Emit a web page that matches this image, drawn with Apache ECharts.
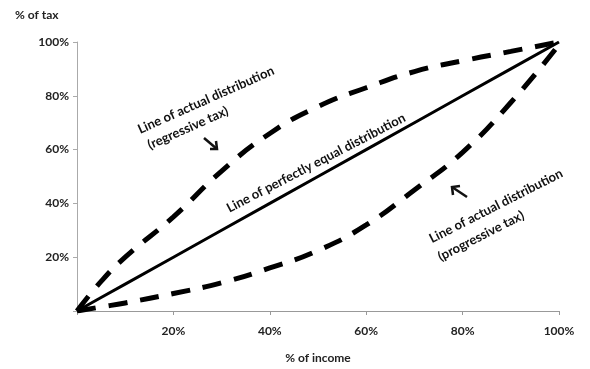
<!DOCTYPE html>
<html>
<head>
<meta charset="utf-8">
<script src="https://cdn.jsdelivr.net/npm/echarts@6/dist/echarts.min.js"></script>
<style>
  html, body { margin: 0; padding: 0; background: #fff; }
  #chart { width: 590px; height: 369px; }
</style>
</head>
<body>
<div id="chart"></div>
<script>
// cumulative % of income
var incomeShare    = [0, 5, 10, 20, 30, 40, 50, 60, 70, 80, 90, 100];
// cumulative % of tax
var equalTax       = [0, 5, 10, 20, 30, 40, 50, 60, 70, 80, 90, 100];
var regressiveTax  = [0, 11, 20, 35, 52, 66, 76, 83, 89, 93, 96.5, 100];
var progressiveTax = [0, 1.5, 3, 6.5, 10.5, 16, 22.5, 32, 45, 59, 77.5, 99];
var tickValues     = [20, 40, 60, 80, 100];

function pairs(ys) {
  return incomeShare.map(function (x, i) { return [x, ys[i]]; });
}
function pct(v) { return v === 0 ? '' : v + '%'; }

var font = 'Lato, "Open Sans", sans-serif';
var labelStyle = { color: '#222', fontSize: 12, fontWeight: 'bold', fontFamily: font };
var noteStyle = { fill: '#111', fontSize: 13, fontWeight: 'bold', fontFamily: font,
                  textAlign: 'center', textVerticalAlign: 'middle' };

var chart = echarts.init(document.getElementById('chart'));
chart.setOption({
  animation: false,
  backgroundColor: '#fff',
  grid: { left: 77, right: 31, top: 42, bottom: 58 },
  xAxis: {
    type: 'value', min: 0, max: 100, interval: 20,
    name: '% of income', nameLocation: 'middle', nameGap: 41,
    nameTextStyle: labelStyle,
    axisLine: { lineStyle: { color: '#999', width: 1 } },
    axisTick: { show: true, length: 4, lineStyle: { color: '#999' } },
    axisLabel: Object.assign({ margin: 14, formatter: pct }, labelStyle),
    splitLine: { show: false }
  },
  yAxis: {
    type: 'value', min: 0, max: 100, interval: 20,
    axisLine: { show: true, lineStyle: { color: '#aaa', width: 1 } },
    axisTick: { show: true, length: 4, lineStyle: { color: '#aaa' } },
    axisLabel: Object.assign({ margin: 8, formatter: pct }, labelStyle),
    splitLine: { show: false }
  },
  series: [
    {
      name: 'equal', type: 'line', data: pairs(equalTax),
      symbol: 'none', lineStyle: { color: '#000', width: 3 }
    },
    {
      name: 'regressive', type: 'line', data: pairs(regressiveTax), smooth: true,
      symbol: 'none', lineStyle: { color: '#000', width: 5, type: [19, 13], cap: 'butt' }
    },
    {
      name: 'progressive', type: 'line', data: pairs(progressiveTax), smooth: true,
      symbol: 'none', lineStyle: { color: '#000', width: 5, type: [19, 13], cap: 'butt' }
    }
  ],
  graphic: [
    { type: 'text', left: 15, top: 9, style: { text: '% of tax', fill: '#222', fontSize: 12, fontWeight: 'bold', fontFamily: font } },
    { type: 'text', x: 206, y: 100, rotation: 24 * Math.PI / 180,
      style: Object.assign({ text: 'Line of actual distribution' }, noteStyle) },
    { type: 'text', x: 188, y: 128, rotation: 24 * Math.PI / 180,
      style: Object.assign({ text: '(regressive tax)' }, noteStyle) },
    { type: 'text', x: 316, y: 163, rotation: 27.5 * Math.PI / 180,
      style: Object.assign({ text: 'Line of perfectly equal distribution' }, noteStyle) },
    { type: 'text', x: 496, y: 206, rotation: 27 * Math.PI / 180,
      style: Object.assign({ text: 'Line of actual distribution' }, noteStyle) },
    { type: 'text', x: 481, y: 236, rotation: 27 * Math.PI / 180,
      style: Object.assign({ text: '(progressive tax)' }, noteStyle) },
    // small arrows
    { type: 'polyline', shape: { points: [[204, 138], [217, 149]] }, style: { stroke: '#111', lineWidth: 2.5 } },
    { type: 'polyline', shape: { points: [[210, 149], [217, 149], [216, 141]] }, style: { stroke: '#111', lineWidth: 2.5, fill: null } },
    { type: 'polyline', shape: { points: [[467, 197], [452, 187]] }, style: { stroke: '#111', lineWidth: 2.5 } },
    { type: 'polyline', shape: { points: [[453, 195], [452, 187], [460, 186]] }, style: { stroke: '#111', lineWidth: 2.5, fill: null } }
  ]
});
</script>
</body>
</html>
